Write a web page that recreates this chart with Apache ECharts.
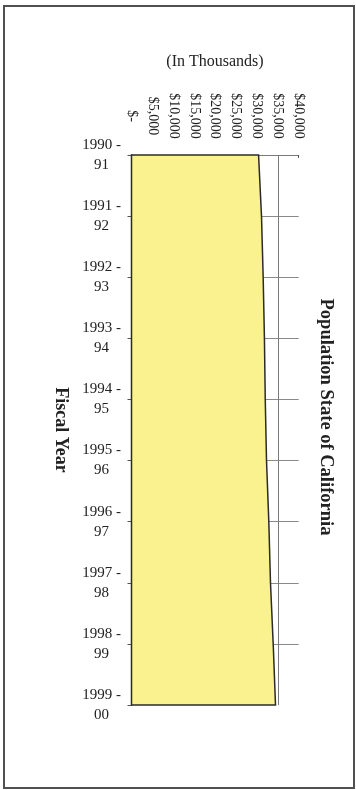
<!DOCTYPE html>
<html>
<head>
<meta charset="utf-8">
<script src="https://cdn.jsdelivr.net/npm/echarts@6/dist/echarts.min.js"></script>
<style>
  html, body { margin: 0; padding: 0; background: #ffffff; }
  #chart { width: 356px; height: 790px; }
</style>
</head>
<body>
<div id="chart"></div>
<script>
// Fiscal years (category axis, read top to bottom)
const fiscalYears = ['1990 - 91', '1991 - 92', '1992 - 93', '1993 - 94', '1994 - 95',
                     '1995 - 96', '1996 - 97', '1997 - 98', '1998 - 99', '1999 - 00'];
// Population of California, in thousands
const population = [30400, 31100, 31500, 31800, 32000, 32300, 32850, 33250, 33900, 34450];
// Value axis ticks and their printed labels
const valueTicks = [0, 5000, 10000, 15000, 20000, 25000, 30000, 35000, 40000];
const valueTickLabels = ['$-', '$5,000', '$10,000', '$15,000', '$20,000',
                         '$25,000', '$30,000', '$35,000', '$40,000'];
// Reference line drawn across the plot
const referenceLineValue = [35000];

const SERIF = '"Liberation Serif", "Times New Roman", serif';
const chart = echarts.init(document.getElementById('chart'), null, { renderer: 'canvas' });
const lastIndex = fiscalYears.length - 1;

chart.setOption({
  backgroundColor: '#ffffff',
  animation: false,
  grid: { left: 131.5, right: 57.3, top: 155, bottom: 85, containLabel: false },
  xAxis: {
    type: 'value',
    position: 'top',
    min: valueTicks[0],
    max: valueTicks[valueTicks.length - 1],
    interval: valueTicks[1] - valueTicks[0],
    axisLine: { show: true, lineStyle: { color: '#7a7a7a', width: 1 } },
    axisTick: { show: true, inside: true, length: 3, lineStyle: { color: '#555' } },
    splitLine: { show: false },
    axisLabel: {
      rotate: 90,
      margin: 39,
      align: 'center',
      verticalAlign: 'middle',
      fontFamily: SERIF,
      fontSize: 14,
      color: '#222',
      formatter: function (v) {
        const i = valueTicks.indexOf(v);
        return i >= 0 ? valueTickLabels[i] : '';
      }
    }
  },
  yAxis: {
    type: 'category',
    inverse: true,
    boundaryGap: false,
    data: fiscalYears,
    axisLine: { show: true, lineStyle: { color: '#2b2b2b', width: 1.5 } },
    axisTick: { show: true, inside: false, length: 4, lineStyle: { color: '#555' } },
    splitLine: {
      show: true,
      interval: function (index) { return index !== lastIndex; },
      lineStyle: { color: '#8a8a8a', width: 1 }
    },
    axisLabel: {
      interval: 0,
      margin: 30,
      align: 'center',
      verticalAlign: 'middle',
      fontFamily: SERIF,
      fontSize: 15,
      lineHeight: 20,
      padding: [0, 0, 14, 0],
      color: '#222',
      formatter: function (v) { return v.replace(' - ', ' -\n'); }
    }
  },
  series: [{
    type: 'custom',
    coordinateSystem: 'cartesian2d',
    encode: { x: 0, y: 1 },
    data: population.map(function (v, i) { return [v, i]; }),
    renderItem: function (params, api) {
      if (params.dataIndex !== 0) return null;
      const pts = [api.coord([0, 0])];
      for (let i = 0; i <= lastIndex; i++) pts.push(api.coord([population[i], i]));
      pts.push(api.coord([0, lastIndex]));
      return {
        type: 'polygon',
        shape: { points: pts },
        style: { fill: '#F9F28E', stroke: '#2b2b2b', lineWidth: 1.5 }
      };
    },
    markLine: {
      silent: true,
      symbol: ['none', 'none'],
      label: { show: false },
      lineStyle: { color: '#7a7a7a', width: 1, type: 'solid' },
      data: referenceLineValue.map(function (v) { return { xAxis: v }; })
    }
  }],
  graphic: [
    {
      type: 'rect',
      shape: { x: 4, y: 6, width: 350, height: 782 },
      style: { fill: 'none', stroke: '#505050', lineWidth: 2 },
      silent: true
    },
    {
      type: 'text',
      x: 215, y: 62,
      style: {
        text: '(In Thousands)', fontFamily: SERIF, fontSize: 16, fill: '#222',
        align: 'center', verticalAlign: 'middle'
      }
    },
    {
      type: 'text',
      x: 61, y: 430,
      rotation: -Math.PI / 2,
      style: {
        text: 'Fiscal Year', fontFamily: SERIF, fontSize: 18, fontWeight: 'bold', fill: '#222',
        align: 'center', verticalAlign: 'middle'
      }
    },
    {
      type: 'text',
      x: 326, y: 417,
      rotation: -Math.PI / 2,
      style: {
        text: 'Population State of California', fontFamily: SERIF, fontSize: 18.5,
        fontWeight: 'bold', fill: '#222', align: 'center', verticalAlign: 'middle'
      }
    }
  ]
});
</script>
</body>
</html>
